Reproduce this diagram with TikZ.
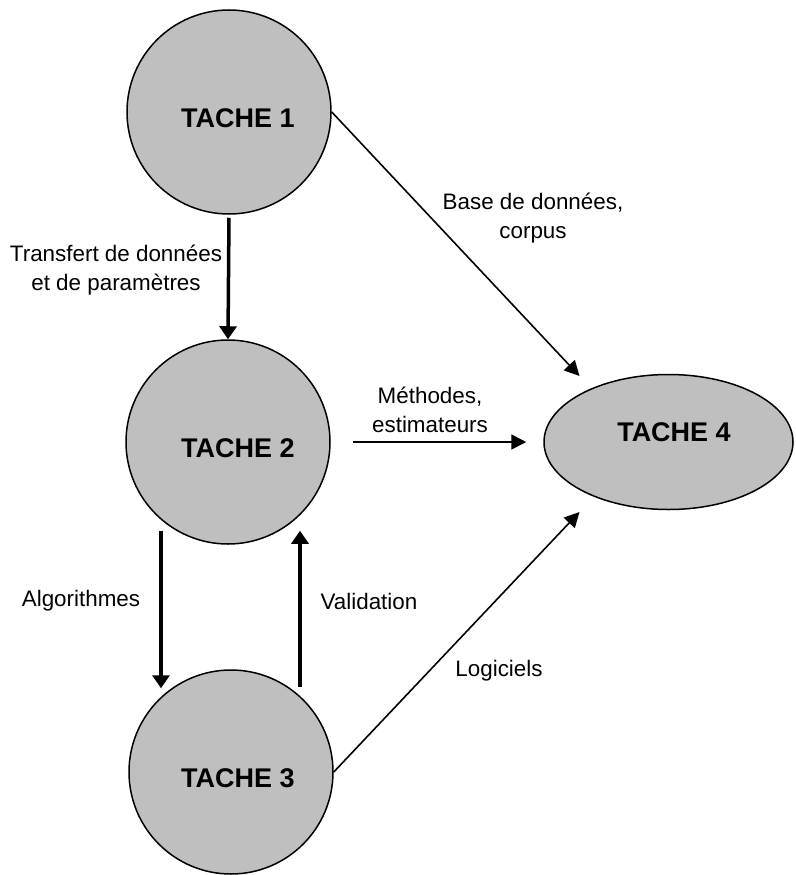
\documentclass[tikz,border=0pt]{standalone}
\usepackage{fontspec}
\setmainfont{Liberation Sans}
\usetikzlibrary{arrows.meta,shapes.geometric}

\begin{document}
\begin{tikzpicture}[x=1pt, y=-1pt,
  tache/.style={circle, draw=black, fill=\tacheFill, line width=\tacheLineWidth, minimum size=204pt, inner sep=0pt},
  tacheovale/.style={ellipse, draw=black, fill=\tacheFill, line width=\tacheLineWidth, minimum width=249pt, minimum height=135pt, inner sep=0pt},
  tachetxt/.style={font=\fontsize{27}{32}\selectfont\bfseries, inner sep=0pt},
  legende/.style={font=\fontsize{22.4}{29}\selectfont, align=center, inner sep=0pt},
  lien/.style={-{Triangle[length=15pt,width=15pt]}, line width=1.6pt},
  lienfort/.style={-{Triangle[length=13pt,width=17pt]}, line width=3.5pt}]
% Task diagram, coordinates in pixels of the sketch
\providecommand{\tacheFill}{black!25}
\providecommand{\tacheLineWidth}{1.5pt}
\useasboundingbox (0,0) rectangle (795,875);
  % Tasks
  \node[tache] (t1) at (229,112) {};
  \node[tache] (t2) at (228,442) {};
  \node[tache] (t3) at (231,772) {};
  \node[tacheovale] (t4) at (668.5,442) {};
  \node[tachetxt] (t1txt) at (238,118) {TACHE 1};
  \node[tachetxt] (t2txt) at (238,448) {TACHE 2};
  \node[tachetxt] (t3txt) at (238,778) {TACHE 3};
  \node[tachetxt] (t4txt) at (674,432) {TACHE 4};
  % Links
  \draw[lienfort, shorten <=3pt] (t1.south) -- (t2.north);
  \draw[lienfort] ([xshift=-67pt, yshift=14pt]t2.south) -- ([xshift=-70pt, yshift=-19pt]t3.north);
  \draw[lienfort] ([xshift=69pt, yshift=-18pt]t3.north) -- ([xshift=72pt, yshift=14pt]t2.south);
  \draw[lien] (t1.east) -- ([xshift=-89pt, yshift=66pt]t4.center);
  \draw[lien, shorten <=22pt, shorten >=17pt] (t2.east) -- (t4.west);
  \draw[lien] (t3.east) -- ([xshift=-89pt, yshift=-70pt]t4.center);
  % Labels
  \node[legende] (transfert) at (116,270) {Transfert de donn\'ees\\et de param\`etres};
  \node[legende] (base) at (533,218) {Base de donn\'ees,\\corpus};
  \node[legende] (methodes) at (430,410) {M\'ethodes,\\estimateurs};
  \node[legende] (algo) at (81,601) {Algorithmes};
  \node[legende] (valid) at (369,601) {Validation};
  \node[legende] (logiciels) at (499,671) {Logiciels};
\end{tikzpicture}
\end{document}
